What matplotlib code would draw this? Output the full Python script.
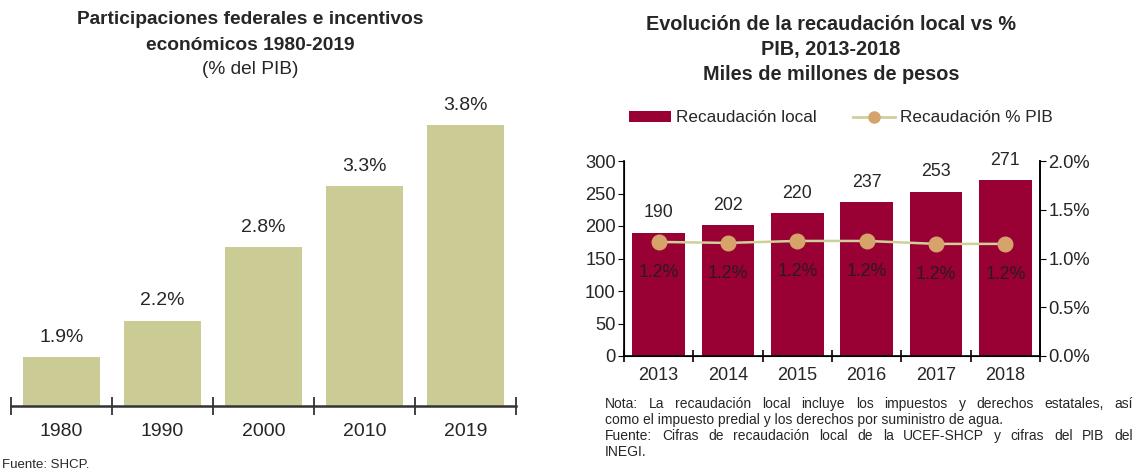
import numpy as np
import matplotlib.pyplot as plt
from matplotlib.patches import Patch
from matplotlib.lines import Line2D

plt.rcParams['font.family'] = ['Liberation Sans', 'DejaVu Sans']

# =========================
# DATA
# =========================
left_years = ["1980", "1990", "2000", "2010", "2019"]
left_pct = [1.9, 2.2, 2.8, 3.3, 3.8]

right_years = ["2013", "2014", "2015", "2016", "2017", "2018"]
recaudacion = [190, 202, 220, 237, 253, 271]
recaudacion_pib = [1.17, 1.16, 1.18, 1.18, 1.15, 1.15]
pib_labels = ["1.2%", "1.2%", "1.2%", "1.2%", "1.2%", "1.2%"]

notes = [
    "Nota: La recaudación local incluye los impuestos y derechos estatales, así",
    "como el impuesto predial y los derechos por suministro de agua.",
    "Fuente: Cifras de recaudación local de la UCEF-SHCP y cifras del PIB del",
    "INEGI.",
]
notes_justify = [True, False, True, False]

KHAKI = "#CBCB96"
WINE = "#990033"
LINE_C = "#CFCF9C"
MARK_C = "#D6A36B"
TXT = "#262626"

W, H = 1146, 472
fig = plt.figure(figsize=(W / 100, H / 100), dpi=100)


def box(x0, y0, x1, y1):
    # pixel box (top-left origin) -> figure fraction
    return [x0 / W, 1 - y1 / H, (x1 - x0) / W, (y1 - y0) / H]


def justified(line, x0, x1, y, justify, **kw):
    # place words one by one so the line fills x0..x1
    if not justify:
        fig.text(x0 / W, 1 - y / H, line, ha="left", va="center", **kw)
        return
    rend = fig.canvas.get_renderer()
    words = line.split(" ")
    objs = [fig.text(0, 1 - y / H, w, ha="left", va="center", **kw) for w in words]
    widths = [o.get_window_extent(rend).width for o in objs]
    gap = (x1 - x0 - sum(widths)) / (len(words) - 1)
    x = x0
    for o, w in zip(objs, widths):
        o.set_x(x / W)
        x += w + gap


# =========================
# LEFT CHART
# =========================
ax1 = fig.add_axes(box(11, 101, 516, 406))
x1 = np.arange(len(left_years))
ax1.bar(x1, [v - 1.5 for v in left_pct], bottom=1.5, width=0.76, color=KHAKI)
for xi, v in zip(x1, left_pct):
    ax1.annotate(f"{v:.1f}%", (xi, v), xytext=(0, 8), textcoords="offset points",
                 ha="center", va="bottom", fontsize=14, color=TXT)
ax1.set_xlim(-0.5, len(left_years) - 0.5)
ax1.set_ylim(1.5, 4.0)
for s in ["top", "right", "left"]:
    ax1.spines[s].set_visible(False)
ax1.spines["bottom"].set_linewidth(1.8)
ax1.spines["bottom"].set_color("#333333")
ax1.set_yticks([])
ax1.set_xticks(np.arange(-0.5, len(left_years), 1.0))
ax1.set_xticklabels([])
ax1.tick_params(axis="x", which="major", direction="inout", length=13, width=1.3, color="#333333")
ax1.set_xticks(x1, minor=True)
ax1.set_xticklabels(left_years, minor=True, fontsize=14, color=TXT)
ax1.tick_params(axis="x", which="minor", length=0, pad=12)

fig.text(250 / W, 1 - 20 / H, "Participaciones federales e incentivos",
         ha="center", va="center", fontsize=13.8, fontweight="bold", color=TXT)
fig.text(250 / W, 1 - 46 / H, "económicos 1980-2019",
         ha="center", va="center", fontsize=13.8, fontweight="bold", color=TXT)
fig.text(250 / W, 1 - 70 / H, "(% del PIB)",
         ha="center", va="center", fontsize=13.8, color=TXT)
fig.text(2 / W, 1 - 465 / H, "Fuente: SHCP.", ha="left", va="center", fontsize=9.5, color=TXT)

# =========================
# RIGHT CHART
# =========================
ax2 = fig.add_axes(box(624, 161, 1040, 356))
x2 = np.arange(len(right_years))
ax2.bar(x2, recaudacion, width=0.76, color=WINE)
for xi, v in zip(x2, recaudacion):
    ax2.annotate(f"{v}", (xi, v), xytext=(0, 8), textcoords="offset points",
                 ha="center", va="bottom", fontsize=12.8, color=TXT)
ax2.set_xlim(-0.5, len(right_years) - 0.5)
ax2.set_ylim(0, 300)
ax2.set_yticks(range(0, 301, 50))
ax2.tick_params(axis="y", direction="out", length=4, labelsize=13.2, labelcolor=TXT, pad=2)
ax2.set_xticks(np.arange(-0.5, len(right_years), 1.0))
ax2.set_xticklabels([])
ax2.tick_params(axis="x", which="major", direction="inout", length=8, width=1.2)
ax2.set_xticks(x2, minor=True)
ax2.set_xticklabels(right_years, minor=True, fontsize=13, color=TXT)
ax2.tick_params(axis="x", which="minor", length=0, pad=8)
ax2.spines["top"].set_visible(False)
for s in ["left", "bottom", "right"]:
    ax2.spines[s].set_linewidth(1.2)

ax3 = ax2.twinx()
ax3.plot(x2, recaudacion_pib, color=LINE_C, lw=1.8, marker="o", ms=10.5,
         markerfacecolor=MARK_C, markeredgecolor=MARK_C)
for xi, v, lab in zip(x2, recaudacion_pib, pib_labels):
    ax3.annotate(lab, (xi, v), xytext=(0, -22), textcoords="offset points",
                 ha="center", va="center", fontsize=12.8, color="#2a1a1f")
ax3.set_ylim(0, 2.0)
ax3.set_yticks([0, 0.5, 1.0, 1.5, 2.0])
ax3.set_yticklabels(["0.0%", "0.5%", "1.0%", "1.5%", "2.0%"])
ax3.tick_params(axis="y", direction="out", length=4, labelsize=13.2, labelcolor=TXT, pad=2)
ax3.spines["top"].set_visible(False)
ax3.spines["right"].set_linewidth(1.2)

handles = [Patch(facecolor=WINE), Line2D([], [], color=LINE_C, lw=2, marker="o", ms=8,
                                          markerfacecolor=MARK_C, markeredgecolor=MARK_C)]
fig.legend(handles, ["Recaudación local", "Recaudación % PIB"], loc="center",
           bbox_to_anchor=(841 / W, 1 - 118 / H), ncol=2, frameon=False,
           fontsize=12.3, handlelength=2.45, handleheight=0.6, handletextpad=0.3,
           columnspacing=2.1, labelcolor=TXT)

fig.text(831 / W, 1 - 24 / H, "Evolución de la recaudación local vs %",
         ha="center", va="center", fontsize=14.3, fontweight="bold", color=TXT)
fig.text(831 / W, 1 - 49 / H, "PIB, 2013-2018",
         ha="center", va="center", fontsize=14.3, fontweight="bold", color=TXT)
fig.text(831 / W, 1 - 74 / H, "Miles de millones de pesos",
         ha="center", va="center", fontsize=14.3, fontweight="bold", color=TXT)

for i, line in enumerate(notes):
    justified(line, 605, 1133, 404 + i * 16, notes_justify[i], fontsize=10, color=TXT)

fig.savefig("out.png", dpi=100)
